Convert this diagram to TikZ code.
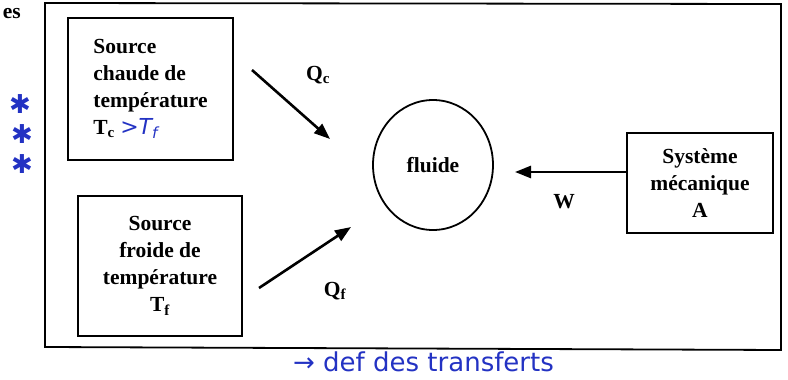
\documentclass[tikz,border=0pt]{standalone}
\usepackage{fontspec}
\setmainfont{Liberation Serif}
\newfontfamily\handfont{DejaVu Sans}
\usetikzlibrary{arrows.meta,shapes.geometric}
\definecolor{ink}{RGB}{35,50,195}
\begin{document}
\begin{tikzpicture}[x=1pt,y=-1pt,
  box/.style={draw,line width=1.8pt,inner sep=0pt,
    font=\bfseries\fontsize{21.5}{27}\selectfont},
  lbl/.style={font=\bfseries\fontsize{21.5}{27}\selectfont,inner sep=0pt},
  flow/.style={line width=2.6pt,-{Triangle[length=16pt,width=12pt]}},
  hand/.style={text=ink,font=\handfont\fontsize{26}{28}\selectfont,inner sep=0pt}]
\useasboundingbox (0,0) rectangle (788,380);

% frame around the whole system
\draw[line width=1.8pt] (45,3) -- (781,4) -- (781,350) -- (45,347) -- cycle;

% reservoirs, working fluid and mechanical system
\node[box,minimum width=165pt,minimum height=142pt,align=left] (hot) at (150.5,89)
  {Source\\chaude de\\température\\T\textsubscript{c} {\color{ink}\handfont\mdseries\itshape\fontsize{22}{27}\selectfont >T\textsubscript{f}}};
\node[box,minimum width=164pt,minimum height=140pt,align=center] (cold) at (160,266)
  {Source\\froide de\\température\\T\textsubscript{f}};
\node[box,ellipse,minimum width=120pt,minimum height=130pt] (fluid) at (433,165) {fluide};
\node[box,minimum width=146pt,minimum height=100pt,align=center] (mech) at (700,183)
  {Système\\mécanique\\A};

% transfer arrows
\coordinate (qcA) at (252,70);  \coordinate (qcB) at (330,139);
\coordinate (qfA) at (259,288); \coordinate (qfB) at (351,227);
\coordinate (wA)  at (mech.west |- 0,172); \coordinate (wB) at (515,172);
\draw[flow] (qcA) -- (qcB);
\draw[flow] (qfA) -- (qfB);
\draw[flow] (wA) -- (wB);

\node[lbl] (qc) at (318,75) {Q\textsubscript{c}};
\node[lbl] (qf) at (335,291) {Q\textsubscript{f}};
\node[lbl] (w)  at (564,202) {W};

% margin notes
\node[lbl,anchor=east] (es) at (21,14) {es};
\node[hand] (s1) at (20,104) {✱};
\node[hand] (s2) at (22,134) {✱};
\node[hand] (s3) at (22,164) {✱};
\node[hand,anchor=west] (note) at (293,362) {→ def des transferts};
\end{tikzpicture}
\end{document}
